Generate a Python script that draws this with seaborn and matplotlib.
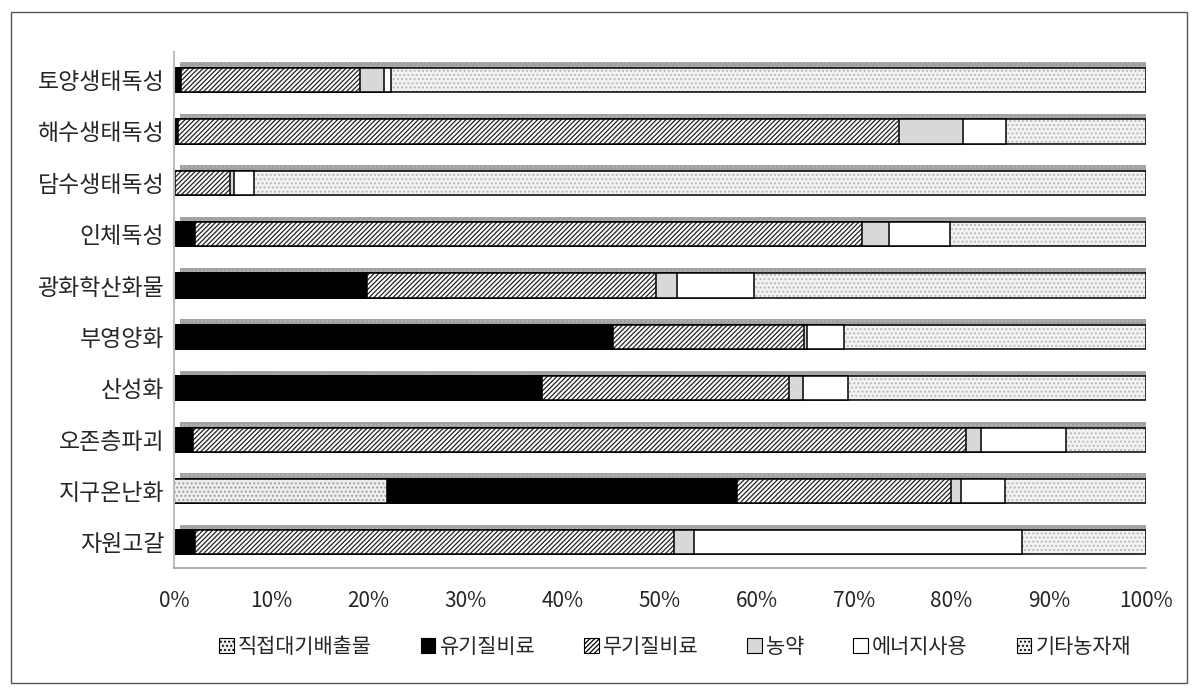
import numpy as np
import pandas as pd
import matplotlib
matplotlib.use("Agg")
import matplotlib.pyplot as plt
import seaborn as sns
from matplotlib.patches import Patch, Rectangle
import matplotlib.patheffects as pe

categories = ["토양생태독성", "해수생태독성", "담수생태독성", "인체독성", "광화학산화물",
              "부영양화", "산성화", "오존층파괴", "지구온난화", "자원고갈"]
series_names = ["직접대기배출물", "유기질비료", "무기질비료", "농약", "에너지사용", "기타농자재"]

direct    = [0.0, 0.0, 0.0, 0.0, 0.0, 0.0, 0.0, 0.0, 21.9, 0.0]
organic   = [0.7, 0.4, 0.1, 2.2, 19.9, 45.2, 37.9, 1.9, 36.0, 2.2]
inorganic = [18.4, 74.2, 5.7, 68.6, 29.7, 19.6, 25.4, 79.6, 22.0, 49.2]
pesticide = [2.5, 6.6, 0.4, 2.8, 2.1, 0.3, 1.4, 1.5, 1.1, 2.1]
energy    = [0.7, 4.4, 2.0, 6.2, 8.0, 3.8, 4.6, 8.8, 4.5, 33.7]
other     = [77.7, 14.4, 91.8, 20.2, 40.3, 31.1, 30.7, 8.2, 14.5, 12.8]

xtick_values = [0, 10, 20, 30, 40, 50, 60, 70, 80, 90, 100]
xtick_labels = ["0%", "10%", "20%", "30%", "40%", "50%", "60%", "70%", "80%", "90%", "100%"]

styles = [
    dict(face="#eeeeee", hatch="....", hcolor="#9a9a9a"),
    dict(face="#000000", hatch=None, hcolor="#000000"),
    dict(face="#ffffff", hatch="///////", hcolor="#222222"),
    dict(face="#d8d8d8", hatch=None, hcolor="#000000"),
    dict(face="#ffffff", hatch=None, hcolor="#000000"),
    dict(face="#f2f2f2", hatch="....", hcolor="#b5b5b5"),
]

sns.set_theme(style="white")
plt.rcParams["font.family"] = ["Noto Sans CJK KR", "DejaVu Sans"]
plt.rcParams["hatch.linewidth"] = 0.9

data = [direct, organic, inorganic, pesticide, energy, other]
df = pd.DataFrame({name: vals for name, vals in zip(series_names, data)}, index=categories)
cum = df.cumsum(axis=1)

fig = plt.figure(figsize=(11.97, 6.91), dpi=100)
ax = fig.add_axes([0.1454, 0.178, 0.812, 0.747])

def set_hc(p, c):
    if hasattr(p, "set_hatchcolor"):
        try:
            p.set_hatchcolor(c)
            return
        except Exception:
            pass
    p._hatch_color = matplotlib.colors.to_rgba(c)

# draw from the full cumulative total down so each earlier series sits on top
for i in range(len(series_names) - 1, -1, -1):
    st = styles[i]
    n_before = len(ax.patches)
    sns.barplot(x=cum.iloc[:, i].values, y=categories, orient="h", color=st["face"],
                saturation=1, width=0.47, edgecolor="black", linewidth=1.1, ax=ax,
                order=categories)
    for p in ax.patches[n_before:]:
        if st["hatch"]:
            p.set_hatch(st["hatch"])
            set_hc(p, st["hcolor"])
        if i == len(series_names) - 1:
            p.set_path_effects([pe.SimplePatchShadow(offset=(4, 4), shadow_rgbFace="#8a8a8a", alpha=0.8),
                                pe.Normal()])

ax.set_xlim(0, 100)
ax.set_ylim(len(categories) - 0.5, -0.55)
ax.set_xticks(xtick_values)
ax.set_xticklabels(xtick_labels, fontsize=15)
ax.tick_params(axis="x", length=0, pad=16)
ax.tick_params(axis="y", length=0, pad=7, labelsize=16.5)
ax.set_xlabel("")
ax.set_ylabel("")
for s in ["top", "right"]:
    ax.spines[s].set_visible(False)
ax.spines["left"].set_color("#bdbdbd")
ax.spines["left"].set_linewidth(1.5)
ax.spines["bottom"].set_color("#a0a0a0")
ax.spines["bottom"].set_linewidth(1.2)

handles = []
for name, st in zip(series_names, styles):
    h = Patch(facecolor=st["face"], edgecolor="black", hatch=st["hatch"], linewidth=0.8, label=name)
    handles.append(h)
leg = fig.legend(handles=handles, loc="center", bbox_to_anchor=(0.564, 0.064), ncol=6,
                 frameon=False, fontsize=15, handlelength=0.7, handleheight=0.7,
                 handletextpad=0.2, columnspacing=2.35)

fig.patches.append(Rectangle((0.009, 0.012), 0.983, 0.97, transform=fig.transFigure,
                             fill=False, edgecolor="#555555", linewidth=1.0))

fig.savefig("out.png", dpi=100)
